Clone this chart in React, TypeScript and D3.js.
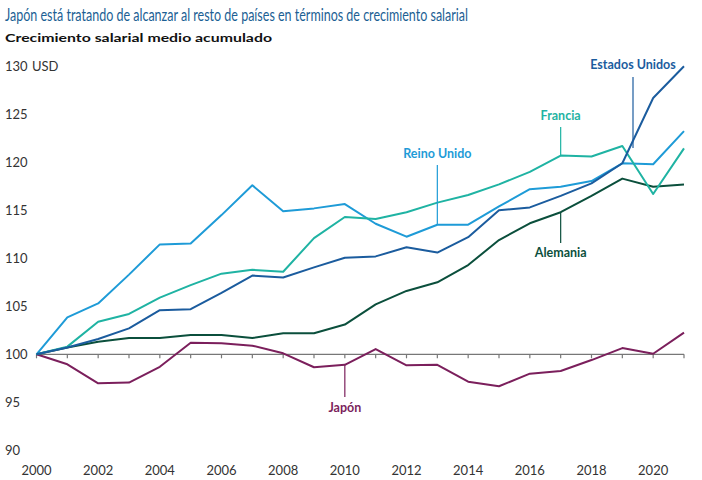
import React from "react";
import * as d3 from "d3";

const years = d3.range(2000, 2022);
const reinoUnido = [100, 103.85, 105.3, 108.3, 111.45, 111.55, 114.5, 117.6, 114.9, 115.2, 115.65, 113.6, 112.25, 113.5, 113.5, 115.4, 117.2, 117.45, 118.05, 119.9, 119.8, 123.25];
const francia = [100, 100.8, 103.4, 104.2, 105.9, 107.2, 108.4, 108.8, 108.6, 112.1, 114.3, 114.1, 114.8, 115.8, 116.6, 117.7, 119.0, 120.7, 120.6, 121.7, 116.7, 121.45];
const estadosUnidos = [100, 100.7, 101.6, 102.7, 104.6, 104.7, 106.4, 108.2, 108.0, 109.05, 110.05, 110.2, 111.15, 110.6, 112.2, 115.0, 115.3, 116.5, 117.8, 119.9, 126.7, 130.0];
const alemania = [100, 100.7, 101.3, 101.7, 101.7, 102.0, 102.0, 101.7, 102.2, 102.2, 103.1, 105.2, 106.6, 107.5, 109.3, 111.9, 113.65, 114.8, 116.5, 118.3, 117.45, 117.7];
const japon = [100, 98.96, 96.98, 97.05, 98.7, 101.2, 101.15, 100.9, 100.1, 98.65, 98.9, 100.55, 98.85, 98.9, 97.15, 96.67, 97.98, 98.26, 99.4, 100.65, 100.06, 102.25];
const yTicks = [90, 95, 100, 105, 110, 115, 120, 125, 130];
const xTickLabels = [2000, 2002, 2004, 2006, 2008, 2010, 2012, 2014, 2016, 2018, 2020];

const title = "Japón está tratando de alcanzar al resto de países en términos de crecimiento salarial";
const subtitle = "Crecimiento salarial medio acumulado";

const series = [
  { name: "Japón", values: japon, color: "#7b1f5c", labelYear: 2010, labelY: 408, leaderTo: 397 },
  { name: "Alemania", values: alemania, color: "#0b4f3c", labelYear: 2017, labelY: 253, leaderTo: 243 },
  { name: "Reino Unido", values: reinoUnido, color: "#1e9bd7", labelYear: 2013, labelY: 154, leaderTo: 165 },
  { name: "Francia", values: francia, color: "#1fb3a3", labelYear: 2017, labelY: 116, leaderTo: 127 },
  { name: "Estados Unidos", values: estadosUnidos, color: "#1b5c9e", labelYear: 2019, labelY: 65, leaderTo: 77 },
];

export default function App() {
  const W = 702, H = 480;
  const x = d3.scaleLinear().domain([2000, 2021]).range([36.5, 684]);
  const y = d3.scaleLinear().domain([100, 130]).range([354.3, 66.3]);
  const line = d3.line<number>().x((_, i) => x(years[i])).y((v) => y(v));
  const font = "Lato, 'Open Sans', sans-serif";

  return (
    <svg width={W} height={H} style={{ position: "absolute", left: 0, top: 0, background: "#fff" }} fontFamily={font}>
      <text x={5} y={21} fontSize={16.5} fill="#1c5f94" textLength={463} lengthAdjust="spacingAndGlyphs">{title}</text>
      <text x={5} y={42} fontSize={12} fontWeight={700} fill="#111" textLength={267} lengthAdjust="spacingAndGlyphs">{subtitle}</text>

      {yTicks.map((t) => (
        <text key={t} x={5} y={y(t)} dy="0.35em" fontSize={13} fill="#333">{t}</text>
      ))}
      <text x={32} y={y(130)} dy="0.35em" fontSize={13} fill="#333">USD</text>

      <line x1={x(2000)} x2={x(2021)} y1={y(100)} y2={y(100)} stroke="#777" strokeWidth={1.2} />
      {years.map((yr) => (
        <line key={yr} x1={x(yr)} x2={x(yr)} y1={y(100)} y2={y(100) + 4} stroke="#777" strokeWidth={1.2} />
      ))}
      {xTickLabels.map((t) => (
        <text key={t} x={x(t)} y={470} dy="0.35em" textAnchor="middle" fontSize={13} fill="#333">{t}</text>
      ))}

      {series.map((s) => (
        <path key={s.name} d={line(s.values) || ""} fill="none" stroke={s.color} strokeWidth={2} strokeLinejoin="round" />
      ))}

      {series.map((s) => {
        const i = years.indexOf(s.labelYear);
        const isUS = s.name === "Estados Unidos";
        const px = isUS ? 633 : x(s.labelYear);
        const py = isUS ? 148 : y(s.values[i]);
        return (
          <g key={s.name + "-label"}>
            <line x1={px} x2={px} y1={py} y2={s.leaderTo} stroke={s.color} strokeWidth={1.2} />
            <text x={px} y={s.labelY} dy="0.35em" textAnchor="middle" fontSize={12.5} fontWeight={700} fill={s.color}>{s.name}</text>
          </g>
        );
      })}
    </svg>
  );
}
